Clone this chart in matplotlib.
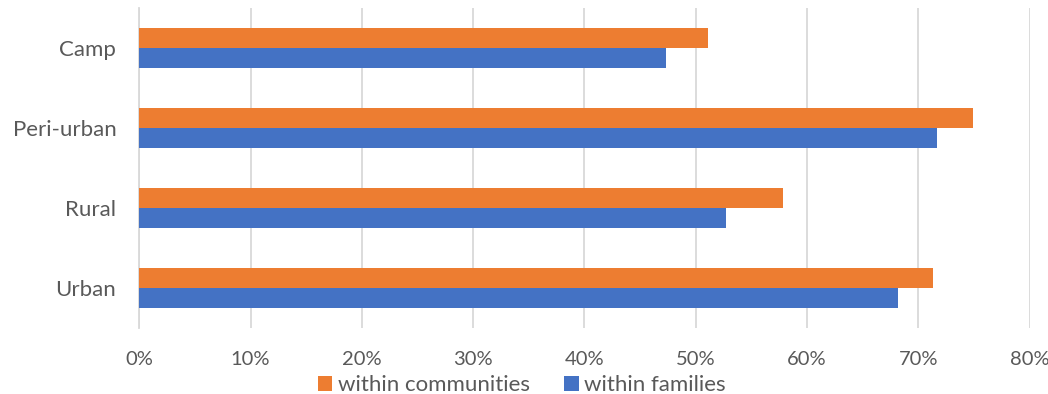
import matplotlib
matplotlib.use("Agg")
import matplotlib.pyplot as plt
from matplotlib.ticker import FuncFormatter, MultipleLocator
import numpy as np

categories = ["Urban", "Rural", "Peri-urban", "Camp"]
within_families = [68.2, 52.7, 71.7, 47.3]
within_communities = [71.3, 57.8, 74.9, 51.1]

blue = "#4472C4"
orange = "#ED7D31"
text_color = "#595959"
grid_color = "#D9D9D9"

plt.rcParams["font.family"] = ["Lato", "DejaVu Sans"]

fig = plt.figure(figsize=(10.48, 3.94), dpi=100)
ax = fig.add_axes([0.1329, 0.1675, 0.8496, 0.8122])

y = np.arange(len(categories))
h = 0.256
ax.barh(y - h / 2, within_families, height=h, color=blue, label="within families", zorder=3)
ax.barh(y + h / 2, within_communities, height=h, color=orange, label="within communities", zorder=3)

ax.set_xlim(0, 80)
ax.set_ylim(-0.5, len(categories) - 0.5)
ax.xaxis.set_major_locator(MultipleLocator(10))
ax.xaxis.set_major_formatter(FuncFormatter(lambda v, _: f"{v:.0f}%"))
ax.set_yticks(y)
ax.set_yticklabels(categories)

ax.grid(axis="x", color=grid_color, linewidth=1.3, zorder=0)
for s in ["top", "right", "bottom"]:
    ax.spines[s].set_visible(False)
ax.spines["left"].set_color(grid_color)
ax.spines["left"].set_linewidth(1.3)
ax.tick_params(axis="both", length=0, colors=text_color)
ax.tick_params(axis="x", pad=16.5, labelsize=14.5)
ax.tick_params(axis="y", pad=16.5, labelsize=16)

handles, labels = ax.get_legend_handles_labels()
leg = fig.legend(handles[::-1], labels[::-1], loc="center", bbox_to_anchor=(0.498, 0.023),
                 ncol=2, frameon=False, fontsize=16, handlelength=0.65, handleheight=0.65,
                 handletextpad=0.25, columnspacing=1.55, borderpad=0)
for t in leg.get_texts():
    t.set_color(text_color)

fig.savefig("out.png", dpi=100)
